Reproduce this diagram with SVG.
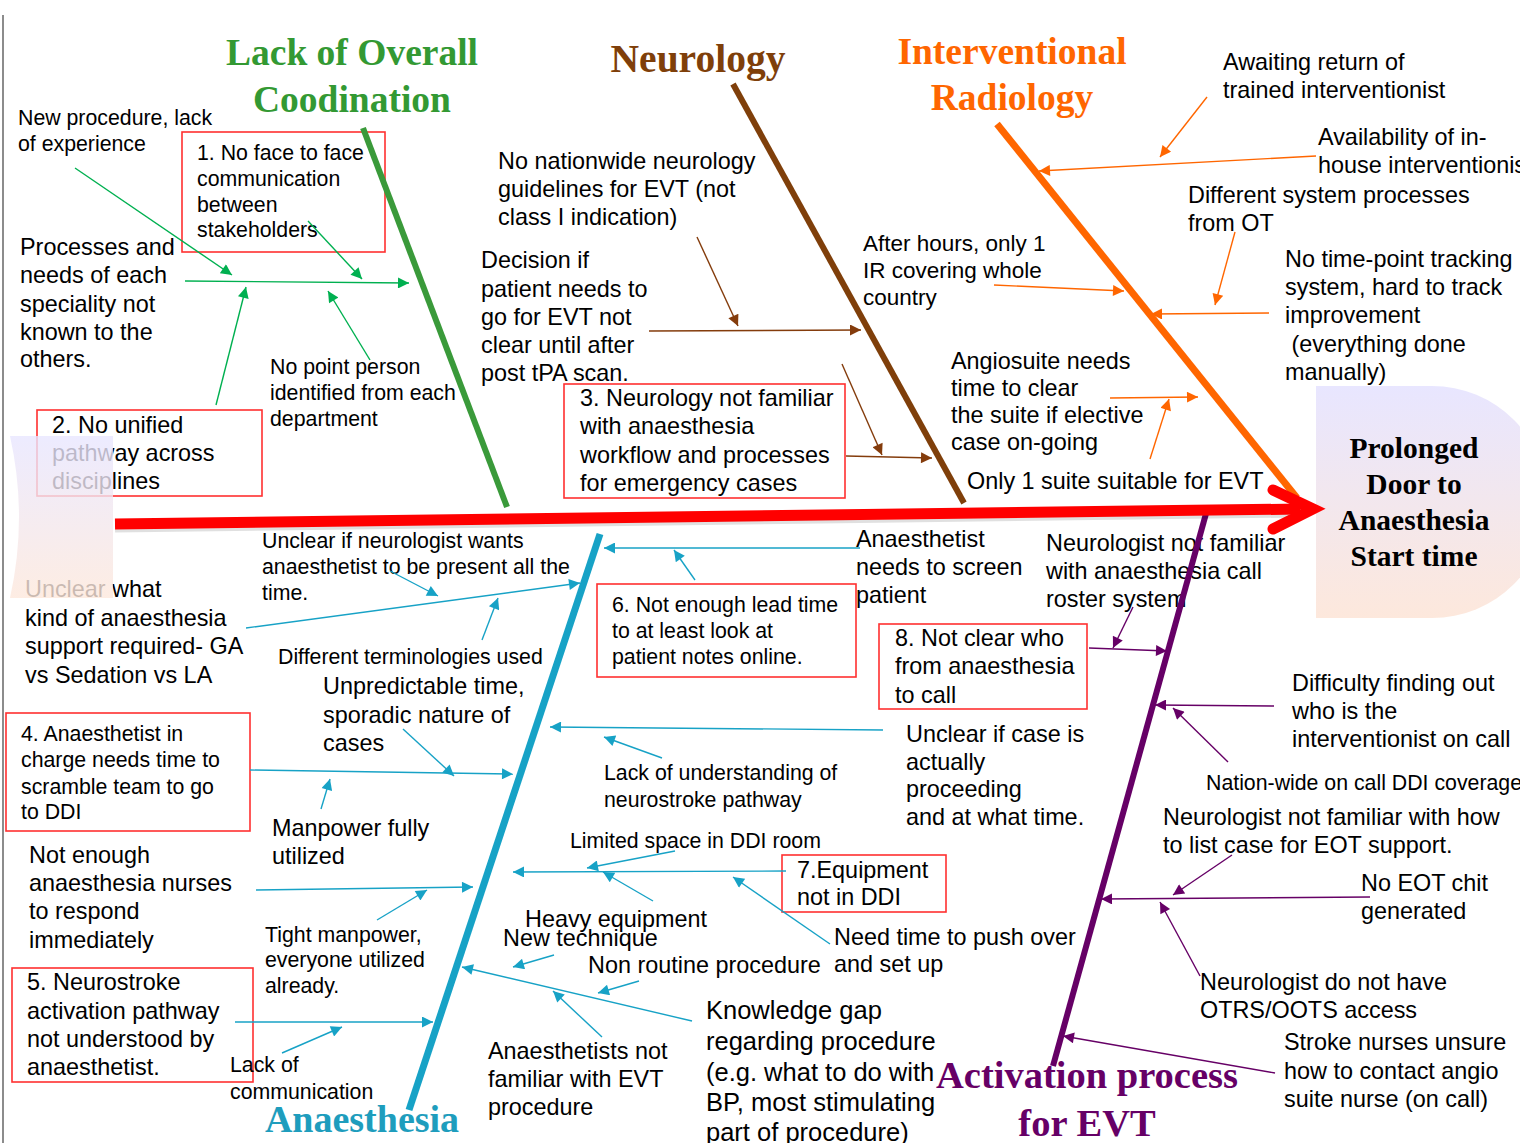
<svg xmlns="http://www.w3.org/2000/svg" width="1520" height="1143" viewBox="0 0 1520 1143">
<style>
.t{font-family:"Liberation Sans",Arial,sans-serif;fill:#000}
.s21{font-size:21.3px}
.s22{font-size:22.5px}
.s23{font-size:23.4px}
.s25{font-size:25.5px}
.ti{font-family:"Liberation Serif","Times New Roman",serif;font-weight:bold;text-anchor:middle}
.box{fill:none;stroke:#ff3030;stroke-width:1.6}
.cg{stroke:#00b050;stroke-width:1.4;fill:none;marker-end:url(#ag)}
.cb{stroke:#843c0c;stroke-width:1.4;fill:none;marker-end:url(#ab)}
.co{stroke:#ff6600;stroke-width:1.4;fill:none;marker-end:url(#ao)}
.ct{stroke:#17a2c6;stroke-width:1.4;fill:none;marker-end:url(#at)}
.cp{stroke:#660066;stroke-width:1.4;fill:none;marker-end:url(#ap)}
.bone{fill:none;stroke-linecap:butt}
</style>
<defs>
<marker id="ag" viewBox="0 0 10 10" refX="10" refY="5" markerWidth="15" markerHeight="11" markerUnits="userSpaceOnUse" orient="auto"><path d="M0,0 L10,5 L0,10 z" fill="#00b050"/></marker>
<marker id="ab" viewBox="0 0 10 10" refX="10" refY="5" markerWidth="15" markerHeight="11" markerUnits="userSpaceOnUse" orient="auto"><path d="M0,0 L10,5 L0,10 z" fill="#843c0c"/></marker>
<marker id="ao" viewBox="0 0 10 10" refX="10" refY="5" markerWidth="15" markerHeight="11" markerUnits="userSpaceOnUse" orient="auto"><path d="M0,0 L10,5 L0,10 z" fill="#ff6600"/></marker>
<marker id="at" viewBox="0 0 10 10" refX="10" refY="5" markerWidth="15" markerHeight="11" markerUnits="userSpaceOnUse" orient="auto"><path d="M0,0 L10,5 L0,10 z" fill="#17a2c6"/></marker>
<marker id="ap" viewBox="0 0 10 10" refX="10" refY="5" markerWidth="15" markerHeight="11" markerUnits="userSpaceOnUse" orient="auto"><path d="M0,0 L10,5 L0,10 z" fill="#660066"/></marker>
<linearGradient id="hg" x1="0" y1="0" x2="0" y2="1">
<stop offset="0" stop-color="#e8e6ff"/>
<stop offset="1" stop-color="#fde8dc"/>
</linearGradient>
</defs>

<rect x="0" y="0" width="1520" height="1143" fill="#ffffff"/>
<line x1="3" y1="15" x2="3" y2="1143" stroke="#666" stroke-width="1.5"/>

<!-- Head -->
<g id="head">
<path d="M1316,386 H1432 A116,116 0 0 1 1432,618 H1316 Z" fill="url(#hg)"/>
<text class="ti" x="1414" y="458" font-size="29.5">Prolonged</text>
<text class="ti" x="1414" y="494" font-size="29.5">Door to</text>
<text class="ti" x="1414" y="530" font-size="29.5">Anaesthesia</text>
<text class="ti" x="1414" y="566" font-size="29.5">Start time</text>
</g>

<!-- Category titles -->
<g id="title-coordination"><text class="ti" x="352" y="65" font-size="37.5" fill="#339933">Lack of  Overall</text><text class="ti" x="352" y="112" font-size="37.5" fill="#339933">Coodination</text></g>
<g id="title-neurology"><text class="ti" x="698" y="72" font-size="39.5" fill="#7f3f0a">Neurology</text></g>
<g id="title-ir"><text class="ti" x="1012" y="64" font-size="37.5" fill="#ff6600">Interventional</text><text class="ti" x="1012" y="110" font-size="37.5" fill="#ff6600">Radiology</text></g>
<g id="title-anaesthesia"><text class="ti" x="362" y="1132" font-size="38" fill="#1e9dbd">Anaesthesia</text></g>
<g id="title-activation"><text class="ti" x="1087" y="1088" font-size="38.5" fill="#660066">Activation process</text><text class="ti" x="1087" y="1136" font-size="38.5" fill="#660066">for EVT</text></g>

<!-- Coordination causes -->
<g id="c-newproc"><text class="t s21" x="18" y="125">New procedure, lack</text><text class="t s21" x="18" y="151">of experience</text></g>
<g id="box1"><rect class="box" x="182" y="132" width="203" height="120"/><text class="t s21"><tspan x="197" y="160">1. No face to face</tspan><tspan x="197" y="186">communication</tspan><tspan x="197" y="212">between</tspan><tspan x="197" y="237">stakeholders</tspan></text></g>
<g id="c-processes"><text class="t s23"><tspan x="20" y="255">Processes and</tspan><tspan x="20" y="283">needs of each</tspan><tspan x="20" y="312">speciality not</tspan><tspan x="20" y="340">known to the</tspan><tspan x="20" y="367">others.</tspan></text></g>
<g id="c-pointperson"><text class="t s21"><tspan x="270" y="374">No point person</tspan><tspan x="270" y="400">identified from each</tspan><tspan x="270" y="426">department</tspan></text></g>
<g id="box2"><rect class="box" x="37" y="410" width="225" height="86"/><text class="t s23"><tspan x="52" y="433">2. No unified</tspan><tspan x="52" y="461">pathway across</tspan><tspan x="52" y="489">disciplines</tspan></text></g>

<!-- Neurology causes -->
<g id="c-guidelines"><text class="t s23"><tspan x="498" y="169">No nationwide neurology</tspan><tspan x="498" y="197">guidelines for EVT (not</tspan><tspan x="498" y="225">class I indication)</tspan></text></g>
<g id="c-decision"><text class="t s23"><tspan x="481" y="268">Decision if</tspan><tspan x="481" y="297">patient needs to</tspan><tspan x="481" y="325">go for EVT not</tspan><tspan x="481" y="353">clear until after</tspan><tspan x="481" y="381">post tPA scan.</tspan></text></g>
<g id="box3"><rect class="box" x="564" y="384" width="281" height="114"/><text class="t s23"><tspan x="580" y="406">3. Neurology not familiar</tspan><tspan x="580" y="434">with anaesthesia</tspan><tspan x="580" y="463">workflow and processes</tspan><tspan x="580" y="491">for emergency cases</tspan></text></g>

<!-- IR causes -->
<g id="c-awaiting"><text class="t s23"><tspan x="1223" y="70">Awaiting return of</tspan><tspan x="1223" y="98">trained interventionist</tspan></text></g>
<g id="c-availability"><text class="t s23"><tspan x="1318" y="145">Availability of in-</tspan><tspan x="1318" y="173">house interventionist</tspan></text></g>
<g id="c-different"><text class="t s23"><tspan x="1188" y="203">Different system processes</tspan><tspan x="1188" y="231">from OT</tspan></text></g>
<g id="c-timepoint"><text class="t s23"><tspan x="1285" y="267">No time-point tracking</tspan><tspan x="1285" y="295">system, hard to track</tspan><tspan x="1285" y="323">improvement</tspan><tspan x="1285" y="352"> (everything done</tspan><tspan x="1285" y="380">manually)</tspan></text></g>
<g id="c-afterhours"><text class="t s22"><tspan x="863" y="251">After hours, only 1</tspan><tspan x="863" y="278">IR covering whole</tspan><tspan x="863" y="305">country</tspan></text></g>
<g id="c-angiosuite"><text class="t s23"><tspan x="951" y="369">Angiosuite needs</tspan><tspan x="951" y="396">time to clear</tspan><tspan x="951" y="423">the suite if elective</tspan><tspan x="951" y="450">case on-going</tspan></text></g>
<g id="c-onesuite"><text class="t s23" x="967" y="489">Only 1 suite suitable for EVT</text></g>

<!-- Anaesthesia causes -->
<g id="c-unclearneuro"><text class="t s21"><tspan x="262" y="548">Unclear if neurologist wants</tspan><tspan x="262" y="574">anaesthetist to be present all the</tspan><tspan x="262" y="600">time.</tspan></text></g>
<g id="c-unclearwhat"><text class="t s23"><tspan x="25" y="597">Unclear what</tspan><tspan x="25" y="626">kind of anaesthesia</tspan><tspan x="25" y="654">support required- GA</tspan><tspan x="25" y="683">vs Sedation vs LA</tspan></text></g>
<g id="c-terminologies"><text class="t s21" x="278" y="664">Different terminologies used</text></g>
<g id="c-unpredictable"><text class="t s23"><tspan x="323" y="694">Unpredictable time,</tspan><tspan x="323" y="723">sporadic nature of</tspan><tspan x="323" y="751">cases</tspan></text></g>
<g id="box4"><rect class="box" x="6" y="713" width="244" height="118"/><text class="t s21"><tspan x="21" y="741">4. Anaesthetist in</tspan><tspan x="21" y="767">charge needs time to</tspan><tspan x="21" y="794">scramble team to go</tspan><tspan x="21" y="819">to DDI</tspan></text></g>
<g id="c-manpower"><text class="t s23"><tspan x="272" y="836">Manpower fully</tspan><tspan x="272" y="864">utilized</tspan></text></g>
<g id="c-nurses"><text class="t s23"><tspan x="29" y="863">Not enough</tspan><tspan x="29" y="891">anaesthesia nurses</tspan><tspan x="29" y="919">to respond</tspan><tspan x="29" y="948">immediately</tspan></text></g>
<g id="c-tight"><text class="t s21"><tspan x="265" y="942">Tight manpower,</tspan><tspan x="265" y="967">everyone utilized</tspan><tspan x="265" y="993">already.</tspan></text></g>
<g id="box5"><rect class="box" x="12" y="968" width="241" height="114"/><text class="t s23"><tspan x="27" y="990">5. Neurostroke</tspan><tspan x="27" y="1019">activation pathway</tspan><tspan x="27" y="1047">not understood by</tspan><tspan x="27" y="1075">anaesthetist.</tspan></text></g>
<g id="c-lackcomm"><text class="t s21"><tspan x="230" y="1072">Lack of</tspan><tspan x="230" y="1099">communication</tspan></text></g>
<g id="c-screen"><text class="t s23"><tspan x="856" y="547">Anaesthetist</tspan><tspan x="856" y="575">needs to screen</tspan><tspan x="856" y="603">patient</tspan></text></g>
<g id="box6"><rect class="box" x="597" y="584" width="259" height="93"/><text class="t s21"><tspan x="612" y="612">6. Not enough lead time</tspan><tspan x="612" y="638">to at least look at</tspan><tspan x="612" y="664">patient notes online.</tspan></text></g>
<g id="c-unclearcase"><text class="t s23"><tspan x="906" y="742">Unclear if case is</tspan><tspan x="906" y="770">actually</tspan><tspan x="906" y="797">proceeding</tspan><tspan x="906" y="825">and at what time.</tspan></text></g>
<g id="c-understanding"><text class="t s21"><tspan x="604" y="780">Lack of understanding of</tspan><tspan x="604" y="807">neurostroke pathway</tspan></text></g>
<g id="c-space"><text class="t s21" x="570" y="848">Limited space in DDI room</text></g>
<g id="box7"><rect class="box" x="782" y="855" width="164" height="57"/><text class="t s23"><tspan x="797" y="878">7.Equipment</tspan><tspan x="797" y="905">not in DDI</tspan></text></g>
<g id="c-heavy"><text class="t s23" x="525" y="927">Heavy equipment</text></g>
<g id="c-newtech"><text class="t s23" x="503" y="946">New technique</text></g>
<g id="c-nonroutine"><text class="t s23" x="588" y="973">Non routine procedure</text></g>
<g id="c-pushover"><text class="t s23"><tspan x="834" y="945">Need time to push over</tspan><tspan x="834" y="972">and set up</tspan></text></g>
<g id="c-notfamiliarevt"><text class="t s23"><tspan x="488" y="1059">Anaesthetists not</tspan><tspan x="488" y="1087">familiar with EVT</tspan><tspan x="488" y="1115">procedure</tspan></text></g>
<g id="c-knowledge"><text class="t s25"><tspan x="706" y="1019">Knowledge gap</tspan><tspan x="706" y="1050">regarding procedure</tspan><tspan x="706" y="1081">(e.g. what to do with</tspan><tspan x="706" y="1111">BP, most stimulating</tspan><tspan x="706" y="1141">part of procedure)</tspan></text></g>

<!-- Activation causes -->
<g id="c-roster"><text class="t s23"><tspan x="1046" y="551">Neurologist not familiar</tspan><tspan x="1046" y="579">with anaesthesia call</tspan><tspan x="1046" y="607">roster system</tspan></text></g>
<g id="box8"><rect class="box" x="879" y="624" width="208" height="85"/><text class="t s23"><tspan x="895" y="646">8. Not clear who</tspan><tspan x="895" y="674">from anaesthesia</tspan><tspan x="895" y="703">to call</tspan></text></g>
<g id="c-difficulty"><text class="t s23"><tspan x="1292" y="691">Difficulty finding out</tspan><tspan x="1292" y="719">who is the</tspan><tspan x="1292" y="747">interventionist on call</tspan></text></g>
<g id="c-nationwide"><text class="t s21" x="1206" y="790">Nation-wide on call DDI coverage</text></g>
<g id="c-listcase"><text class="t s23"><tspan x="1163" y="825">Neurologist not familiar with how</tspan><tspan x="1163" y="853">to list case for EOT support.</tspan></text></g>
<g id="c-eotchit"><text class="t s23"><tspan x="1361" y="891">No EOT chit</tspan><tspan x="1361" y="919">generated</tspan></text></g>
<g id="c-otrs"><text class="t s23"><tspan x="1200" y="990">Neurologist do not have</tspan><tspan x="1200" y="1018">OTRS/OOTS access</tspan></text></g>
<g id="c-strokenurses"><text class="t s23"><tspan x="1284" y="1050">Stroke nurses unsure</tspan><tspan x="1284" y="1079">how to contact angio</tspan><tspan x="1284" y="1107">suite nurse (on call)</tspan></text></g>

<!-- Connectors -->
<g id="connectors">
<path class="cg" d="M185,281 L409,283"/>
<path class="cg" d="M75,168 L232,275"/>
<path class="cg" d="M308,221 L362,279"/>
<path class="cg" d="M216,405 L246,287"/>
<path class="cg" d="M370,360 L328,291"/>

<path class="cb" d="M697,237 L738,326"/>
<path class="cb" d="M649,331 L861,330"/>
<path class="cb" d="M846,456 L932,458"/>
<path class="cb" d="M842,364 L882,455"/>

<path class="co" d="M1207,97 L1160,157"/>
<path class="co" d="M1316,156 L1039,171"/>
<path class="co" d="M1235,232 L1215,305"/>
<path class="co" d="M1269,313 L1151,314"/>
<path class="co" d="M994,285 L1124,291"/>
<path class="co" d="M1110,398 L1198,397"/>
<path class="co" d="M1150,459 L1169,399"/>

<path class="ct" d="M246,628 L580,583"/>
<path class="ct" d="M390,571 L438,596"/>
<path class="ct" d="M482,640 L498,598"/>
<path class="ct" d="M250,770 L513,774"/>
<path class="ct" d="M403,729 L454,776"/>
<path class="ct" d="M321,809 L330,779"/>
<path class="ct" d="M256,890 L473,887"/>
<path class="ct" d="M377,920 L427,890"/>
<path class="ct" d="M235,1022 L433,1022"/>
<path class="ct" d="M282,1053 L342,1027"/>
<path class="ct" d="M860,548 L604,548"/>
<path class="ct" d="M695,580 L674,550"/>
<path class="ct" d="M883,730 L550,727"/>
<path class="ct" d="M662,758 L604,737"/>
<path class="ct" d="M786,871 L513,872"/>
<path class="ct" d="M675,851 L587,868"/>
<path class="ct" d="M653,901 L603,872"/>
<path class="ct" d="M830,944 L733,877"/>
<path class="ct" d="M554,955 L513,967"/>
<path class="ct" d="M639,981 L598,993"/>
<path class="ct" d="M692,1021 L462,967"/>
<path class="ct" d="M602,1037 L553,991"/>

<path class="cp" d="M1089,648 L1167,651"/>
<path class="cp" d="M1133,607 L1113,648"/>
<path class="cp" d="M1274,706 L1155,705"/>
<path class="cp" d="M1228,762 L1173,708"/>
<path class="cp" d="M1232,855 L1173,895"/>
<path class="cp" d="M1370,897 L1101,899"/>
<path class="cp" d="M1200,976 L1160,902"/>
<path class="cp" d="M1275,1073 L1063,1036"/>
</g>

<!-- Bones -->
<g id="bones">
<line class="bone" x1="363" y1="128" x2="507" y2="507" stroke="#3a9a3a" stroke-width="6"/>
<line class="bone" x1="733" y1="84" x2="964" y2="503" stroke="#7f3f0a" stroke-width="6"/>
<line class="bone" x1="997" y1="124" x2="1297" y2="498" stroke="#ff6600" stroke-width="7"/>
<line class="bone" x1="600" y1="534" x2="409" y2="1110" stroke="#17a2c6" stroke-width="7"/>
<line class="bone" x1="1207" y1="510" x2="1053" y2="1066" stroke="#660066" stroke-width="6"/>
</g>

<!-- Spine -->
<g id="spine">
<line x1="115" y1="527" x2="1300" y2="512" stroke="#000" stroke-opacity="0.12" stroke-width="11"/>
<line x1="115" y1="524" x2="1300" y2="509" stroke="#ff0000" stroke-width="11"/>
<polyline points="1273,490 1313,509 1273,529" fill="none" stroke="#ff0000" stroke-width="11" stroke-linecap="round" stroke-linejoin="miter"/>
</g>

<!-- Tail -->
<g id="tail">
<path d="M10,436 H113 V598 H10 Q28,517 10,436 Z" fill="url(#hg)" opacity="0.8"/>
</g>
</svg>
